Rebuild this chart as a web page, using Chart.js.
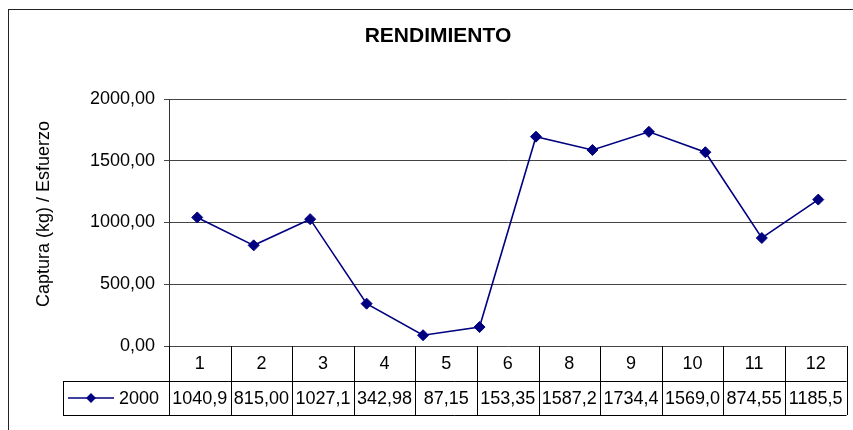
<!DOCTYPE html>
<html>
<head>
<meta charset="utf-8">
<script src="https://cdn.jsdelivr.net/npm/chart.js@4/dist/chart.umd.min.js"></script>
<style>
  html, body { margin: 0; padding: 0; background: #fff; }
  #wrap { width: 853px; height: 430px; }
</style>
</head>
<body>
<div id="wrap"><canvas id="lineChart" width="853" height="430"></canvas></div>
<script>
// point categories (7 is plotted but hidden in the table)
const pointLabels = ['1', '2', '3', '4', '5', '6', '7', '8', '9', '10', '11', '12'];
const values2000 = [1040.9, 815.00, 1027.1, 342.98, 87.15, 153.35, 1695, 1587.2, 1734.4, 1569.0, 874.55, 1185.5];
// table columns shown under the plot
const tableLabels = ['1', '2', '3', '4', '5', '6', '8', '9', '10', '11', '12'];
const yTicks = [0, 500, 1000, 1500, 2000];
const seriesName = '2000';
const chartTitle = 'RENDIMIENTO';
const yTitle = 'Captura (kg) / Esfuerzo';

const FONT = 'Liberation Sans, Arial, sans-serif';
const NAVY = '#000080';

const fmt = v => v.toFixed(2).replace('.', ',');
const tableValues = tableLabels.map(l => fmt(values2000[pointLabels.indexOf(l)]).slice(0, 6));

// frame, titles and data table
const tablePlugin = {
  id: 'tablePlugin',
  beforeDraw(chart) {
    const ctx = chart.ctx;
    ctx.save();
    ctx.fillStyle = '#fff';
    ctx.fillRect(0, 0, chart.width, chart.height);
    ctx.strokeStyle = '#222';
    ctx.lineWidth = 1;
    ctx.strokeRect(8.5, 9.5, 900, 500);
    ctx.restore();
  },
  afterDraw(chart) {
    const ctx = chart.ctx;
    const ca = chart.chartArea;
    const xt = chart.scales.xt;
    const half = (xt.getPixelForValue(1) - xt.getPixelForValue(0)) / 2;
    const r1 = ca.bottom, r2 = ca.bottom + 35, r3 = ca.bottom + 69;
    const legLeft = 63;

    ctx.save();
    // titles
    ctx.fillStyle = '#000';
    ctx.textAlign = 'center';
    ctx.textBaseline = 'middle';
    ctx.font = 'bold 21px ' + FONT;
    ctx.fillText(chartTitle, 438, 36);
    ctx.save();
    ctx.translate(44, 214);
    ctx.rotate(-Math.PI / 2);
    ctx.font = '18px ' + FONT;
    ctx.fillText(yTitle, 0, 0);
    ctx.restore();

    ctx.strokeStyle = '#000';
    ctx.lineWidth = 1;
    ctx.beginPath();
    // column lines
    for (let i = 0; i <= tableLabels.length; i++) {
      const x = Math.round(i < tableLabels.length ? xt.getPixelForValue(i) - half : ca.right) + 0.5;
      ctx.moveTo(x, r1);
      ctx.lineTo(x, r3);
    }
    // row lines
    ctx.moveTo(legLeft, r2 + 0.5); ctx.lineTo(ca.right, r2 + 0.5);
    ctx.moveTo(legLeft, r3 + 0.5); ctx.lineTo(ca.right, r3 + 0.5);
    ctx.moveTo(legLeft + 0.5, r2); ctx.lineTo(legLeft + 0.5, r3);
    ctx.stroke();

    ctx.font = '18px ' + FONT;
    tableLabels.forEach((l, i) => {
      const x = xt.getPixelForValue(i);
      ctx.fillText(l, x, (r1 + r2) / 2 + 1);
      ctx.fillText(tableValues[i], x, (r2 + r3) / 2 + 1);
    });

    // legend key
    const ly = (r2 + r3) / 2;
    ctx.strokeStyle = NAVY;
    ctx.lineWidth = 1.5;
    ctx.beginPath();
    ctx.moveTo(68, ly); ctx.lineTo(114, ly);
    ctx.stroke();
    ctx.fillStyle = NAVY;
    ctx.beginPath();
    ctx.moveTo(91, ly - 5); ctx.lineTo(96, ly); ctx.lineTo(91, ly + 5); ctx.lineTo(86, ly);
    ctx.closePath();
    ctx.fill();
    ctx.fillStyle = '#000';
    ctx.textAlign = 'left';
    ctx.fillText(seriesName, 119, ly + 1);
    ctx.restore();
  }
};

const ctx = document.getElementById('lineChart');
let lineChart = new Chart(ctx, { // eslint-disable-line
  type: 'line',
  data: {
    labels: pointLabels,
    datasets: [
      {
        label: seriesName,
        data: values2000,
        xAxisID: 'x',
        borderColor: NAVY,
        backgroundColor: NAVY,
        borderWidth: 1.6,
        pointStyle: 'rectRot',
        pointRadius: 5.5,
        pointBorderWidth: 1,
        tension: 0
      }
    ]
  },
  options: {
    responsive: false,
    animation: false,
    layout: { padding: { left: 8, right: 3, top: 99, bottom: 84 } },
    plugins: {
      legend: { display: false },
      tooltip: { enabled: false },
      title: { display: false }
    },
    scales: {
      x: { display: false, offset: true },
      xt: { display: false, offset: true, type: 'category', labels: tableLabels },
      y: {
        min: 0,
        max: 2000,
        afterBuildTicks: s => { s.ticks = yTicks.map(v => ({ value: v })); },
        afterFit: s => { s.width = 161; },
        border: { color: '#333', width: 1 },
        grid: { color: '#444', tickLength: 5, lineWidth: 1 },
        ticks: {
          color: '#000',
          padding: 9,
          font: { family: FONT, size: 18 },
          callback: v => fmt(v)
        }
      }
    }
  },
  plugins: [tablePlugin]
});
</script>
</body>
</html>
